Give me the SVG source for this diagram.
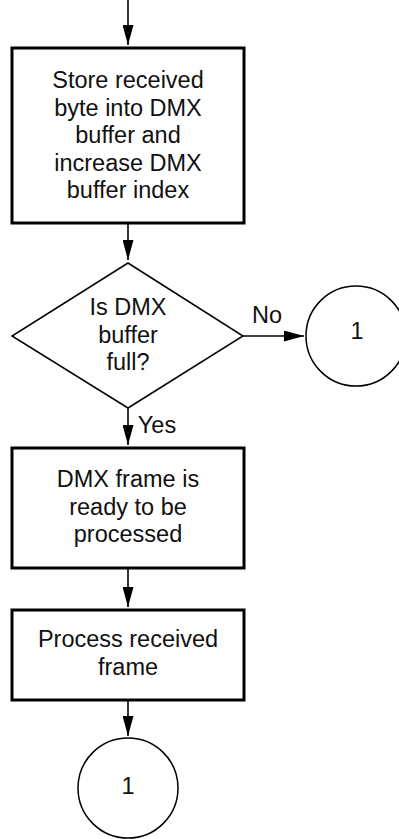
<svg xmlns="http://www.w3.org/2000/svg" width="399" height="839" viewBox="0 0 399 839">
<style>
.box{fill:#fff;stroke:#000;stroke-width:3}
.thin{fill:#fff;stroke:#000;stroke-width:1.5}
.t{font-family:"Liberation Sans",Arial,sans-serif;font-size:23.5px;fill:#111;text-anchor:middle}
.c{fill:none;stroke:#000;stroke-width:1.6}
</style>
<defs>
<marker id="ah" markerUnits="userSpaceOnUse" markerWidth="20" markerHeight="11" refX="20" refY="5.5" orient="auto">
<path d="M0,0 L20,5.5 L0,11 z" fill="#000"/>
</marker>
</defs>
<g id="connectors">
<line class="c" x1="128" y1="0" x2="128" y2="45" marker-end="url(#ah)"/>
<line class="c" x1="128" y1="224" x2="128" y2="260" marker-end="url(#ah)"/>
<line class="c" x1="243" y1="336" x2="304" y2="336" marker-end="url(#ah)"/>
<text class="t" x="267" y="323">No</text>
<line class="c" x1="128" y1="408" x2="128" y2="445" marker-end="url(#ah)"/>
<text class="t" x="157" y="433">Yes</text>
<line class="c" x1="128" y1="569" x2="128" y2="607" marker-end="url(#ah)"/>
<line class="c" x1="128" y1="701" x2="128" y2="736" marker-end="url(#ah)"/>
</g>
<g id="store">
<rect class="box" x="12" y="48" width="232" height="175"/>
<text class="t" x="128" y="88">Store received</text>
<text class="t" x="128" y="116">byte into DMX</text>
<text class="t" x="128" y="143">buffer and</text>
<text class="t" x="128" y="171">increase DMX</text>
<text class="t" x="128" y="198">buffer index</text>
</g>
<g id="decision">
<polygon class="thin" points="128,263 243,336 128,408 12,336"/>
<text class="t" x="128" y="315">Is DMX</text>
<text class="t" x="128" y="343">buffer</text>
<text class="t" x="128" y="370">full?</text>
</g>
<g id="connNo">
<circle class="thin" cx="356" cy="336" r="50"/>
<text class="t" x="357" y="339">1</text>
</g>
<g id="ready">
<rect class="box" x="12" y="448" width="232" height="120"/>
<text class="t" x="128" y="487">DMX frame is</text>
<text class="t" x="128" y="515">ready to be</text>
<text class="t" x="128" y="542">processed</text>
</g>
<g id="process">
<rect class="box" x="12" y="610" width="232" height="90"/>
<text class="t" x="128" y="647">Process received</text>
<text class="t" x="128" y="675">frame</text>
</g>
<g id="connEnd">
<circle class="thin" cx="128" cy="788" r="50"/>
<text class="t" x="128" y="794">1</text>
</g>
</svg>
